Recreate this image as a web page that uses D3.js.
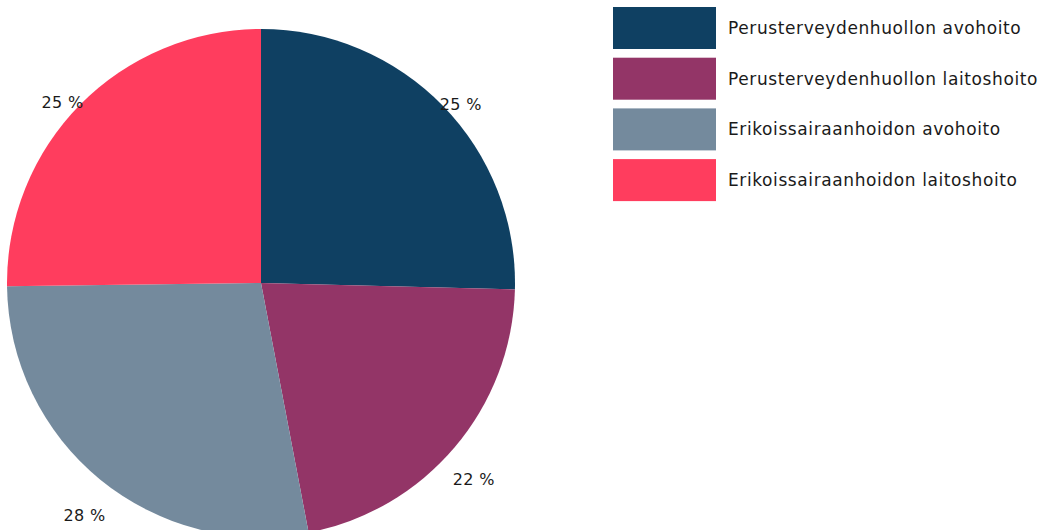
<!DOCTYPE html>
<html>
<head>
<meta charset="utf-8">
<script src="https://cdn.jsdelivr.net/npm/d3@7"></script>
<style>
  body { margin: 0; background: #fff; }
  svg text { font-family: "DejaVu Sans", sans-serif; fill: #1a1a1a; }
</style>
</head>
<body>
<div id="chart"></div>
<script>
// data
const categories = [
  "Perusterveydenhuollon avohoito",
  "Perusterveydenhuollon laitoshoito",
  "Erikoissairaanhoidon avohoito",
  "Erikoissairaanhoidon laitoshoito"
];
const shares = [25.4, 21.6, 27.8, 25.2];
const colors = ["#0f4062", "#933567", "#748a9d", "#ff3d5e"];

const width = 1056, height = 530;
const cx = 261, cy = 283, radius = 254;

const svg = d3.select("#chart").append("svg")
  .attr("width", width)
  .attr("height", height);

const data = categories.map((c, i) => ({ name: c, value: shares[i], color: colors[i] }));

const pie = d3.pie().value(d => d.value).sort(null);
const arc = d3.arc().innerRadius(0).outerRadius(radius);
const labelArc = d3.arc().innerRadius(279).outerRadius(279);

const g = svg.append("g").attr("transform", "translate(" + cx + "," + cy + ")");

g.selectAll("path")
  .data(pie(data))
  .enter()
  .append("path")
  .attr("d", arc)
  .attr("fill", d => d.data.color);

// percent labels just outside the pie
g.selectAll("text.pct")
  .data(pie(data))
  .enter()
  .append("text")
  .attr("class", "pct")
  .attr("x", d => labelArc.centroid(d)[0])
  .attr("y", d => labelArc.centroid(d)[1] + 16)
  .attr("text-anchor", "middle")
  .attr("dominant-baseline", "central")
  .style("font-size", "16px")
  .style("letter-spacing", "0.3px")
  .text(d => Math.round(d.data.value) + " %");

// legend
const legend = svg.append("g").attr("transform", "translate(613,7)");
const item = legend.selectAll("g")
  .data(data)
  .enter()
  .append("g")
  .attr("transform", (d, i) => "translate(0," + (i * 50.7) + ")");

item.append("rect")
  .attr("width", 103)
  .attr("height", 42)
  .attr("fill", d => d.color);

item.append("text")
  .attr("x", 115)
  .attr("y", 21)
  .attr("dominant-baseline", "central")
  .style("font-size", "17px")
  .style("letter-spacing", "0.6px")
  .text(d => d.name);
</script>
</body>
</html>
